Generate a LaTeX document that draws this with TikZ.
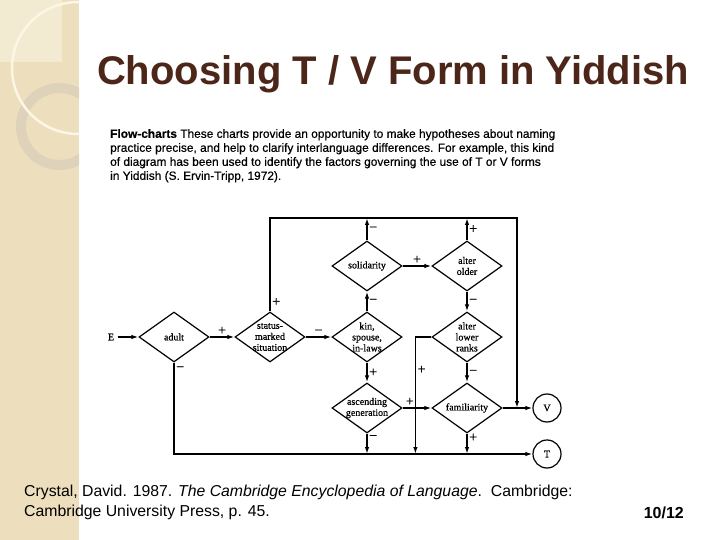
\documentclass[tikz,border=0pt]{standalone}
\usepackage{fontspec}
\setmainfont{Liberation Serif}
\setsansfont{Liberation Sans}
\newfontfamily\capfont[FakeBold=0.5]{Liberation Sans}
\newfontfamily\diafont[FakeBold=0.6]{Liberation Serif}
\usetikzlibrary{shapes.geometric,arrows.meta}
\definecolor{band}{RGB}{237,223,189}
\definecolor{bandlight}{RGB}{243,234,210}
\definecolor{cream}{RGB}{252,247,228}
\definecolor{ring}{RGB}{222,211,186}
\definecolor{titlec}{RGB}{77,38,26}

\begin{document}
\begin{tikzpicture}[x=1pt, y=-1pt,
  dia/.style={diamond, draw, line width=1.2pt, minimum width=70, minimum height=50, inner sep=0pt},
  dtext/.style={font=\diafont\fontsize{10}{11}\selectfont, align=center},
  term/.style={circle, draw, line width=1.2pt, minimum size=28, inner sep=0pt, font=\diafont\fontsize{10}{11}\selectfont},
  arr/.style={-{Latex[length=7pt,width=4.5pt]}, line width=1.5pt},
  sgn/.style={font=\diafont\fontsize{14}{16}\selectfont, inner sep=1.5pt}]
  % Slide background
  \useasboundingbox (0,0) rectangle (720,540);
  \fill[white] (0,0) rectangle (720,540);
  \fill[band] (0,0) rectangle (79,540);
  \begin{scope}
    \clip (0,0) rectangle (79,540);
    \fill[bandlight] (0,0) rectangle (62,62);
    \draw[ring, line width=10pt] (59.5,126.5) circle (38.5);
    \draw[cream, line width=2.5pt] (78,68) circle (66);
  \end{scope}
  % Title and caption
  \node[anchor=base, font=\sffamily\bfseries\fontsize{40}{48}\selectfont, text=titlec] (title) at (393,85) {Choosing T / V Form in Yiddish};
  \node[anchor=north west, align=left, inner sep=0pt, font=\capfont\fontsize{11.9}{14}\selectfont] (caption) at (110,129)
    {\textbf{Flow-charts} These charts provide an opportunity to make hypotheses about naming\\
     practice precise, and help to clarify interlanguage differences. For example, this kind\\
     of diagram has been used to identify the factors governing the use of T or V forms\\
     in Yiddish (S. Ervin-Tripp, 1972).};
  % Decision nodes
  \node[dia, label={[dtext]center:adult}] (adult) at (174,337) {};
  \node[dia, label={[dtext]center:{status-\\marked\\situation}}] (status) at (270,337) {};
  \node[dia, label={[dtext]center:{kin,\\spouse,\\in-laws}}] (kin) at (367,337) {};
  \node[dia, label={[dtext]center:solidarity}] (solid) at (367,266) {};
  \node[dia, label={[dtext]center:{alter\\older}}] (older) at (467,266) {};
  \node[dia, label={[dtext]center:{alter\\lower\\ranks}}] (lower) at (467,337) {};
  \node[dia, label={[dtext]center:{ascending\\generation}}] (asc) at (367,408) {};
  \node[dia, label={[dtext]center:familiarity}] (fam) at (467,408) {};
  % Entry and outcomes
  \node[dtext] (E) at (111,337) {E};
  \node[term] (V) at (547,408) {V};
  \node[term] (T) at (547,454) {T};
  \coordinate (top) at (517,218);
  % Connectors
  \draw[arr] (E) -- (adult.west);
  \draw[arr] (adult.east) -- node[sgn, above] {+} (status.west);
  \draw[arr] (adult.south) -- node[sgn, pos=0.07, right] {−} (adult.south |- T) -- (T.west);
  \draw[arr] (status.north) -- node[sgn, pos=0.1, right] {+} (status.north |- top) -- (top) -- (top |- V);
  \draw[arr] (status.east) -- node[sgn, above] {−} (kin.west);
  \draw[arr] (kin.north) -- node[sgn, right] {−} (solid.south);
  \draw[arr] (kin.south) -- node[sgn, right] {+} (asc.north);
  \draw[arr] (solid.north) -- node[sgn, right] {−} (solid.north |- top);
  \draw[arr] (solid.east) -- node[sgn, above] {+} (older.west);
  \draw[arr] (older.north) -- node[sgn, right] {+} (older.north |- top);
  \draw[arr] (older.south) -- node[sgn, right] {−} (lower.north);
  \draw[arr] (lower.west) -- ++(-16,0) coordinate (drop) -- node[sgn, pos=0.28, right] {+} (drop |- T);
  \draw[arr] (lower.south) -- node[sgn, right] {−} (fam.north);
  \draw[arr] (asc.east) -- node[sgn, pos=0.25, above] {+} (fam.west);
  \draw[arr] (asc.south) -- node[sgn, pos=0.2, right] {−} (asc.south |- T);
  \draw[arr] (fam.south) -- node[sgn, pos=0.2, right] {+} (fam.south |- T);
  \draw[arr] (fam.east) -- (V.west);
  % Reference and slide number
  \node[anchor=north west, align=left, inner sep=0pt, font=\sffamily\fontsize{15.8}{20}\selectfont] (cite) at (24,485)
    {Crystal, David. 1987. \textit{The Cambridge Encyclopedia of Language}.\ \ Cambridge:\\
     Cambridge University Press, p. 45.};
  \node[anchor=base east, inner sep=0pt, font=\sffamily\bfseries\fontsize{16}{19}\selectfont] (pagenum) at (684,518) {10/12};
\end{tikzpicture}
\end{document}
